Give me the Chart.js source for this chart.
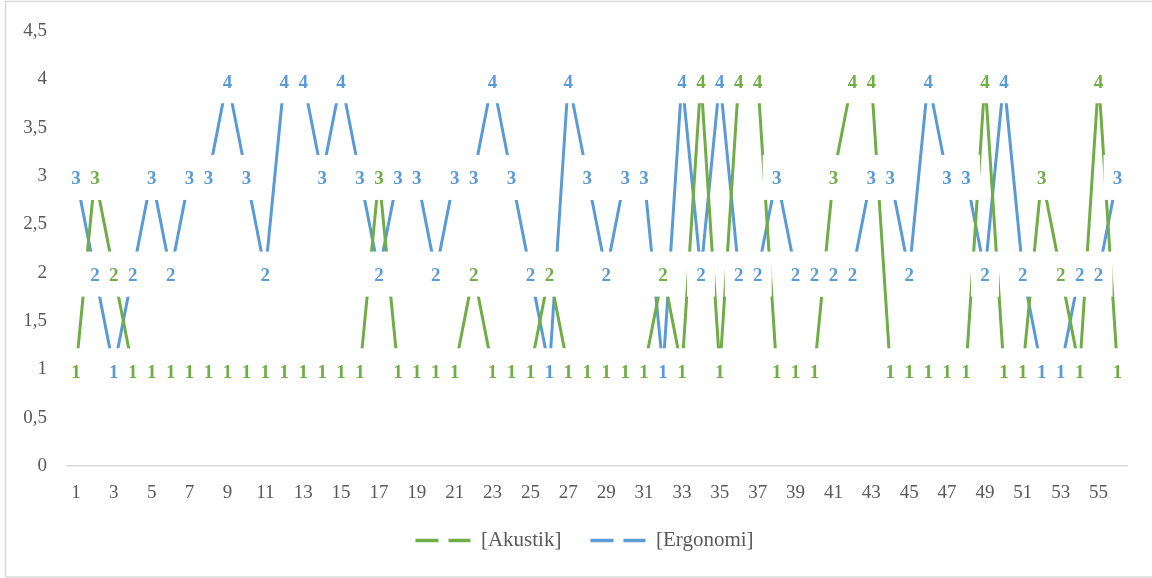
<!DOCTYPE html>
<html><head><meta charset="utf-8">
<script src="https://cdn.jsdelivr.net/npm/chart.js@4.4.1/dist/chart.umd.min.js"></script>
<style>html,body{margin:0;padding:0;background:#fff}#wrap{width:1152px;height:578px;position:relative}</style>
</head><body><div id="wrap"><canvas id="c"></canvas></div>
<script>
const categories = ['1','2','3','4','5','6','7','8','9','10','11','12','13','14','15','16','17','18','19','20',
  '21','22','23','24','25','26','27','28','29','30','31','32','33','34','35','36','37','38','39','40',
  '41','42','43','44','45','46','47','48','49','50','51','52','53','54','55','56'];
const akustik = [1,3,2,1,1,1,1,1,1,1, 1,1,1,1,1,1,3,1,1,1, 1,2,1,1,1,2,1,1,1,1, 1,2,1,4,1,4,4,1,1,1, 3,4,4,1,1,1,1,1,4,1, 1,3,2,1,4,1];
const ergonomi = [3,2,1,2,3,2,3,3,4,3, 2,4,4,3,4,3,2,3,3,2, 3,3,4,3,2,1,4,3,2,3, 3,1,4,2,4,2,2,3,2,2, 2,2,3,3,2,4,3,3,2,4, 2,1,1,2,2,3];
const seriesNames = ['[Akustik]', '[Ergonomi]'];
const yTicks = [0,0.5,1,1.5,2,2.5,3,3.5,4,4.5];

const GREEN = '#70AD47', BLUE = '#5B9BD5', TXT = '#595959';
Chart.defaults.font.family = '"Liberation Serif", "Times New Roman", serif';

const bgPlugin = {
  id: 'bg',
  beforeDraw(chart) {
    const ctx = chart.ctx;
    ctx.save();
    ctx.fillStyle = '#fff';
    ctx.fillRect(0, 0, chart.width, chart.height);
    ctx.strokeStyle = '#D9D9D9';
    ctx.lineWidth = 1.5;
    ctx.strokeRect(5.5, 1.5, chart.width, chart.height - 2.5);
    ctx.restore();
  },
  afterLayout(chart) {
    const lg = chart.legend;
    if (lg) { lg.left = 42; lg.right = 1127; }
  }
};

const labelPlugin = {
  id: 'pointLabels',
  afterDatasetsDraw(chart) {
    const ctx = chart.ctx;
    ctx.save();
    ctx.fillStyle = '#fff';
    chart.data.datasets.forEach((ds, di) => {
      chart.getDatasetMeta(di).data.forEach(pt => {
        ctx.fillRect(pt.x - 14, pt.y - 21, 28, 45);
      });
    });
    ctx.font = 'bold 19px "Liberation Serif", serif';
    ctx.textAlign = 'center';
    ctx.textBaseline = 'middle';
    chart.data.datasets.forEach((ds, di) => {
      ctx.fillStyle = ds.borderColor;
      chart.getDatasetMeta(di).data.forEach((pt, i) => {
        ctx.fillText(String(ds.data[i]), pt.x, pt.y + 3.5);
      });
    });
    ctx.restore();
  }
};

new Chart(document.getElementById('c'), {
  type: 'line',
  data: {
    labels: categories,
    datasets: [
      { label: seriesNames[0], data: akustik, borderColor: GREEN, backgroundColor: GREEN, borderWidth: 3, pointRadius: 0, tension: 0, fill: false },
      { label: seriesNames[1], data: ergonomi, borderColor: BLUE, backgroundColor: BLUE, borderWidth: 3, pointRadius: 0, tension: 0, fill: false }
    ]
  },
  options: {
    responsive: true,
    maintainAspectRatio: false,
    animation: false,
    layout: { padding: { left: 0, right: 25, top: 28, bottom: 17 } },
    plugins: {
      tooltip: { enabled: false },
      legend: {
        position: 'bottom',
        labels: {
          usePointStyle: true,
          pointStyleWidth: 55,
          padding: 29,
          color: TXT,
          font: { size: 21 },
          generateLabels(chart) {
            return chart.data.datasets.map((ds, i) => ({
              text: ds.label, fillStyle: ds.borderColor, strokeStyle: ds.borderColor,
              lineWidth: 3.5, lineDash: [23, 10], lineCap: 'butt', pointStyle: 'line',
              datasetIndex: i, hidden: false, fontColor: TXT
            }));
          }
        }
      }
    },
    scales: {
      x: {
        offset: true,
        grid: { display: false, drawTicks: false },
        border: { display: true, color: '#D9D9D9', width: 1.5 },
        ticks: {
          autoSkip: false, maxRotation: 0, color: TXT, font: { size: 19 }, padding: 16,
          callback(v, i) { return i % 2 === 0 ? categories[i] : null; }
        },
        afterFit(s) { s.height = 35; }
      },
      y: {
        min: 0, max: 4.5,
        grid: { display: false, drawTicks: false },
        border: { display: false },
        afterBuildTicks(s) { s.ticks = yTicks.map(v => ({ value: v })); },
        ticks: {
          color: TXT, font: { size: 19 }, padding: 19.5,
          callback(v) { return String(v).replace('.', ','); }
        },
        afterFit(s) { s.width = 66.5; }
      }
    }
  },
  plugins: [bgPlugin, labelPlugin]
});
</script>
</body></html>
